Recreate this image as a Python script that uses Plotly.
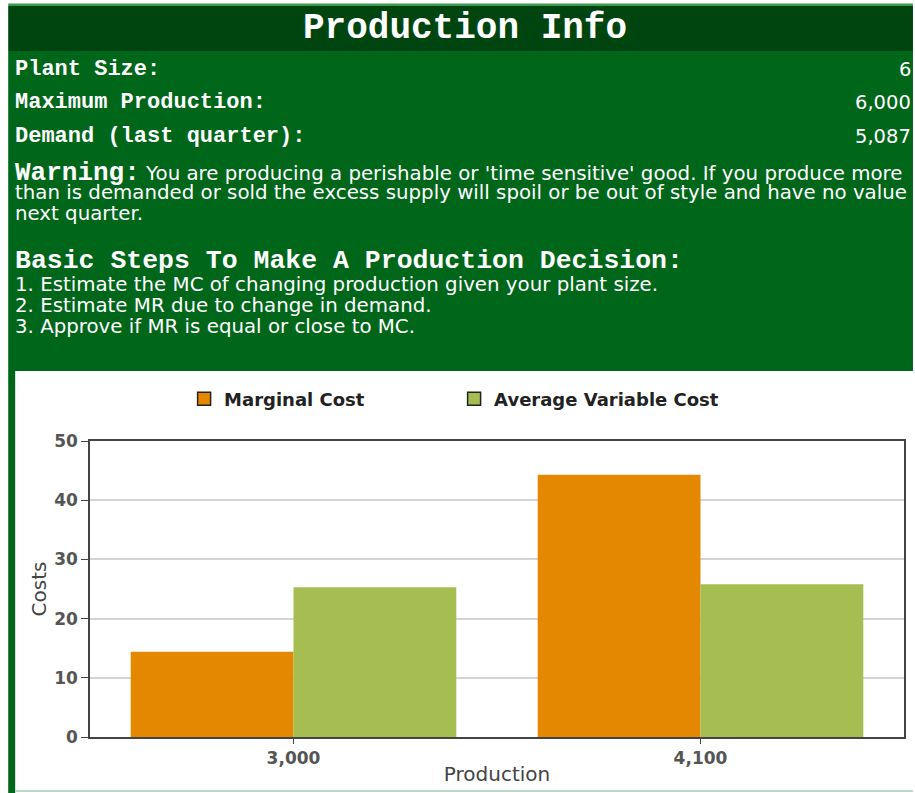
import plotly.graph_objects as go

# chart data
production = ["3,000", "4,100"]
marginal_cost = [14.4, 44.3]
avg_variable_cost = [25.3, 25.8]

# info panel text
info_labels = ["Plant Size:", "Maximum Production:", "Demand (last quarter):"]
info_values = ["6", "6,000", "5,087"]
warning_lines = [
    "You are producing a perishable or 'time sensitive' good. If you produce more",
    "than is demanded or sold the excess supply will spoil or be out of style and have no value",
    "next quarter.",
]
steps = [
    "1. Estimate the MC of changing production given your plant size.",
    "2. Estimate MR due to change in demand.",
    "3. Approve if MR is equal or close to MC.",
]

W, H = 915, 793
PL, PR, PT, PB = 90, 906, 441, 737  # plot area in pixels


def fx(x):
    return (x - PL) / (PR - PL)


def fy(y):
    return (PB - y) / (PB - PT)


MONO = "Liberation Mono"
SANS = "DejaVu Sans"
ORANGE = "#e38800"
OLIVE = "#a6bd51"
DARK = "#00450f"
GREEN = "#00661a"

fig = go.Figure()
fig.add_trace(go.Bar(x=production, y=marginal_cost, name="Marginal Cost",
                     marker=dict(color=ORANGE, line_width=0), showlegend=False))
fig.add_trace(go.Bar(x=production, y=avg_variable_cost, name="Average Variable Cost",
                     marker=dict(color=OLIVE, line_width=0), showlegend=False))
# legend entries (outlined squares), kept out of the bar groups
for name, col in [("Marginal Cost", ORANGE), ("Average Variable Cost", OLIVE)]:
    fig.add_trace(go.Scatter(x=[None], y=[None], name=name, mode="markers",
                             marker=dict(symbol="square", size=13, color=col,
                                         line=dict(color="#222", width=1.5))))


def rect(x0, y0, x1, y1, color):
    fig.add_shape(type="rect", xref="paper", yref="paper",
                  x0=fx(x0), x1=fx(x1), y0=fy(y0), y1=fy(y1),
                  fillcolor=color, line_width=0, layer="below")


rect(8, 3.5, 915, 6, "#3c9a50")
rect(8, 6, 915, 51, DARK)
rect(8, 51, 915, 371, GREEN)
rect(8, 371, 15, 793, GREEN)
rect(15, 790, 915, 792, "#b5dcbf")


def note(x, y, text, size, family, anchor="left", bold=False):
    fig.add_annotation(xref="paper", yref="paper", x=fx(x), y=fy(y),
                       xanchor=anchor, yanchor="middle", showarrow=False, borderpad=0,
                       text=text, font=dict(family=family, size=size, color="white",
                                            weight="bold" if bold else "normal"))


note(466, 29, "Production Info", 36, MONO, anchor="center", bold=True)
for i, (lab, val) in enumerate(zip(info_labels, info_values)):
    y = 69 + 34 * i
    note(14, y, lab, 22, MONO, bold=True)
    note(914, y, val, 19.5, SANS, anchor="right")

warn_head = ("<span style='font-family:Liberation Mono;font-weight:bold;font-size:26px'>"
             "Warning:</span> ")
note(14, 173, warn_head + warning_lines[0], 19.8, SANS)
note(14, 193, warning_lines[1], 19.8, SANS)
note(14, 213, warning_lines[2], 19.8, SANS)
note(14, 261, "Basic Steps To Make A Production Decision:", 26.5, MONO, bold=True)
for i, s in enumerate(steps):
    note(14, 284 + 21 * i, s, 19.8, SANS)

axis_font = dict(family=SANS, size=17, color="#555", weight="bold")
title_font = dict(family=SANS, size=20, color="#444")

fig.update_layout(
    width=W, height=H,
    margin=dict(l=PL, r=W - PR, t=PT, b=H - PB, pad=0),
    paper_bgcolor="white", plot_bgcolor="white",
    barmode="group", bargap=0.2, bargroupgap=0,
    legend=dict(orientation="h", x=fx(455), y=fy(399), xanchor="center", yanchor="middle",
                font=dict(family=SANS, size=18, color="#222", weight="bold"),
                entrywidth=225, itemclick=False),
    xaxis=dict(title=dict(text="Production", font=title_font, standoff=0),
               showline=True, linecolor="#444", linewidth=1.5, mirror=True,
               ticks="outside", ticklen=5, tickcolor="#444", tickfont=axis_font),
    yaxis=dict(title=dict(text="Costs", font=title_font, standoff=2),
               range=[0, 50], dtick=10, showline=True, linecolor="#444", linewidth=1.5,
               mirror=True, ticks="outside", ticklen=7, tickcolor="#444",
               gridcolor="#d4d4d4", gridwidth=1.5, zeroline=False, tickfont=axis_font),
    showlegend=True,
)

# drop the default 8px body margin so the figure sits at the page corner
fig.write_html("out.html", config={"displayModeBar": False},
               post_script="document.body.style.margin = '0';")
